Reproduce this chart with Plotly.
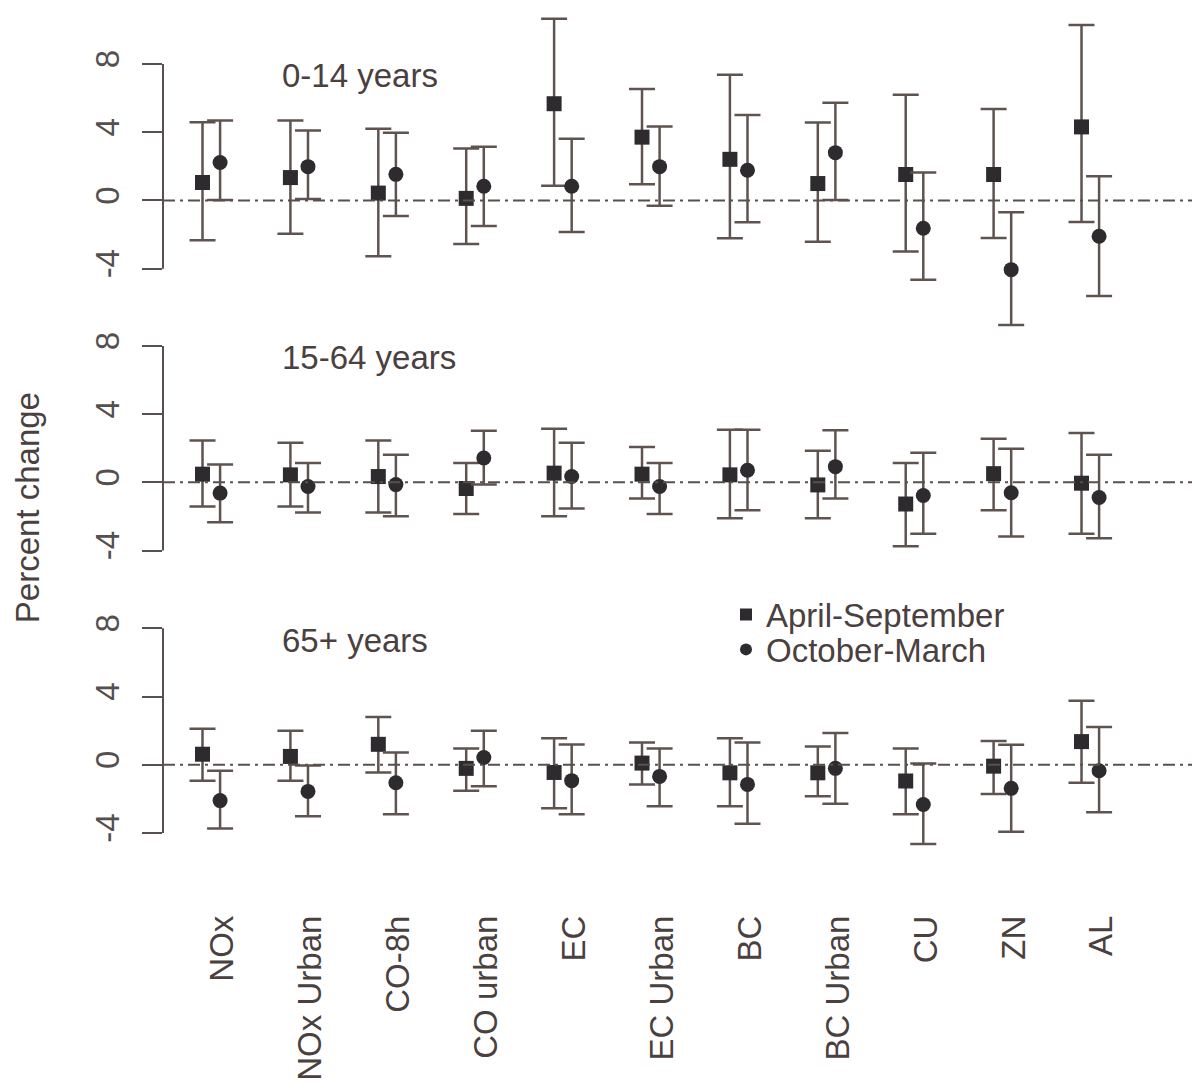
import plotly.graph_objects as go

# ---------------- data ----------------
categories = ["NOx", "NOx Urban", "CO-8h", "CO urban", "EC", "EC Urban",
              "BC", "BC Urban", "CU", "ZN", "AL"]
panel_labels = ["0-14 years", "15-64 years", "65+ years"]
season_names = ["April-September", "October-March"]
y_ticks = [-4, 0, 4, 8]

# 0-14 years
p1_apr_est = [1.05, 1.34, 0.43, 0.12, 5.67, 3.71, 2.41, 0.99, 1.52, 1.52, 4.31]
p1_apr_lo  = [-2.33, -1.96, -3.27, -2.55, 0.86, 0.95, -2.22, -2.43, -2.99, -2.20, -1.26]
p1_apr_hi  = [4.59, 4.68, 4.20, 3.05, 10.65, 6.53, 7.37, 4.57, 6.20, 5.36, 10.28]
p1_oct_est = [2.22, 1.98, 1.53, 0.83, 0.83, 1.98, 1.77, 2.80, -1.63, -4.06, -2.10]
p1_oct_lo  = [0.02, 0.08, -0.91, -1.50, -1.85, -0.31, -1.28, 0.02, -4.65, -7.31, -5.60]
p1_oct_hi  = [4.68, 4.10, 3.97, 3.15, 3.62, 4.33, 5.01, 5.73, 1.63, -0.70, 1.42]

# 15-64 years
p2_apr_est = [0.48, 0.44, 0.34, -0.36, 0.54, 0.48, 0.44, -0.15, -1.27, 0.51, -0.05]
p2_apr_lo  = [-1.41, -1.41, -1.76, -1.86, -1.99, -0.94, -2.11, -2.11, -3.74, -1.64, -3.02]
p2_apr_hi  = [2.46, 2.32, 2.46, 1.14, 3.14, 2.07, 3.08, 1.86, 1.14, 2.56, 2.90]
p2_oct_est = [-0.63, -0.24, -0.13, 1.43, 0.34, -0.24, 0.71, 0.92, -0.77, -0.61, -0.89]
p2_oct_lo  = [-2.34, -1.76, -1.99, -0.13, -1.53, -1.86, -1.64, -0.94, -3.02, -3.18, -3.28]
p2_oct_hi  = [1.04, 1.14, 1.62, 3.02, 2.32, 1.14, 3.08, 3.06, 1.74, 1.97, 1.62]

# 65+ years
p3_apr_est = [0.62, 0.49, 1.20, -0.21, -0.45, 0.10, -0.47, -0.47, -0.95, -0.08, 1.36]
p3_apr_lo  = [-0.93, -0.93, -0.45, -1.52, -2.55, -1.15, -2.43, -1.85, -2.90, -1.71, -1.05]
p3_apr_hi  = [2.12, 2.00, 2.80, 0.95, 1.55, 1.30, 1.55, 1.07, 0.95, 1.40, 3.75]
p3_oct_est = [-2.10, -1.56, -1.05, 0.43, -0.93, -0.68, -1.15, -0.21, -2.33, -1.38, -0.35]
p3_oct_lo  = [-3.73, -3.01, -2.90, -1.26, -2.90, -2.43, -3.46, -2.29, -4.65, -3.93, -2.78]
p3_oct_hi  = [-0.35, -0.04, 0.72, 2.00, 1.19, 0.95, 1.30, 1.87, 0.08, 1.17, 2.22]

panels = [
    (p1_apr_est, p1_apr_lo, p1_apr_hi, p1_oct_est, p1_oct_lo, p1_oct_hi),
    (p2_apr_est, p2_apr_lo, p2_apr_hi, p2_oct_est, p2_oct_lo, p2_oct_hi),
    (p3_apr_est, p3_apr_lo, p3_apr_hi, p3_oct_est, p3_oct_lo, p3_oct_hi),
]

# ---------------- layout geometry ----------------
W, H = 1192, 1088
k = 17.15                       # px per percent unit
zero_px = [195.5, 479.0, 763.0]
y_ranges = [(-7.8, 11.2), (-4.9, 8.5), (-8.4, 8.5)]
x_left_px = 163.0
g0_px, g_step = 211.3, 87.9
x_range = [1 - (g0_px - x_left_px) / g_step, 1 + (W - g0_px) / g_step]
offset = 0.1
label_shift = 0.13

FONT = "Liberation Sans, Arial, sans-serif"
FS = 33
TXT = "#4a4040"
BAR = "#5f5350"
MK = "#2e2b2f"
LINE = "#585050"

xs = list(range(1, len(categories) + 1))
legend_keys = ["legend", "legend2"]

fig = go.Figure()
for pi, (ae, al, ah, oe, ol, oh) in enumerate(panels):
    yname = "y" if pi == 0 else f"y{pi+1}"
    for si, (est, lo, hi, sym, dx) in enumerate([(ae, al, ah, "square", -offset),
                                                  (oe, ol, oh, "circle", offset)]):
        fig.add_trace(go.Scatter(
            x=[x + dx for x in xs], y=est, mode="markers",
            xaxis="x", yaxis=yname,
            name=season_names[si], legendgroup=season_names[si],
            legend=legend_keys[si],
            showlegend=(pi == 0),
            marker=dict(symbol=sym, size=15, color=MK),
            error_y=dict(type="data", symmetric=False,
                         array=[h - e for h, e in zip(hi, est)],
                         arrayminus=[e - l for e, l in zip(est, lo)],
                         color=BAR, thickness=2.5, width=13),
            cliponaxis=False,
        ))

leg_common = dict(xanchor="left", yanchor="middle", bgcolor="rgba(0,0,0,0)",
                  itemsizing="constant", font=dict(size=FS, color=TXT, family=FONT))
layout = dict(
    width=W, height=H, margin=dict(l=0, r=0, t=0, b=0),
    paper_bgcolor="white", plot_bgcolor="white",
    font=dict(family=FONT, color=TXT, size=FS),
    showlegend=True,
    legend=dict(x=726 / W, y=1 - 612 / H, **leg_common),
    legend2=dict(x=726 / W, y=1 - 647 / H, **leg_common),
    xaxis=dict(domain=[x_left_px / W, 1], range=x_range, anchor="y3",
               tickmode="array", tickvals=[x + label_shift for x in xs],
               ticktext=categories, tickangle=-90, showline=False,
               showgrid=False, zeroline=False, ticks="",
               tickfont=dict(size=FS, color=TXT, family=FONT)),
)

shapes = []
annotations = []
for pi in range(3):
    lo, hi = y_ranges[pi]
    top_px = zero_px[pi] - hi * k
    bot_px = zero_px[pi] - lo * k
    key = "yaxis" if pi == 0 else f"yaxis{pi+1}"
    yref = "y" if pi == 0 else f"y{pi+1}"
    layout[key] = dict(domain=[1 - bot_px / H, 1 - top_px / H], range=[lo, hi],
                       anchor="x", tickmode="array", tickvals=y_ticks,
                       ticktext=[str(t) for t in y_ticks],
                       tickangle=-90, ticks="outside", ticklen=20, tickwidth=2,
                       tickcolor=LINE, showline=False, showgrid=False,
                       zeroline=False, ticklabelstandoff=10,
                       tickfont=dict(size=FS, color="#555050", family=FONT))
    # axis line from -4 to 8
    shapes.append(dict(type="line", xref="paper", yref=yref,
                       x0=x_left_px / W, x1=x_left_px / W,
                       y0=min(y_ticks), y1=max(y_ticks),
                       line=dict(color=LINE, width=2)))
    # reference dash-dot line at zero
    shapes.append(dict(type="line", xref="paper", yref=yref,
                       x0=x_left_px / W, x1=1, y0=0, y1=0,
                       line=dict(color=LINE, width=2, dash="12px,5px,3px,5px")))
    annotations.append(dict(text=panel_labels[pi], xref="x", yref=yref,
                            x=1.78, y=7.3, xanchor="left", yanchor="middle",
                            showarrow=False,
                            font=dict(size=FS, color=TXT, family=FONT)))

annotations.append(dict(text="Percent change", xref="paper", yref="paper",
                        x=27 / W, y=1 - 505 / H, textangle=-90,
                        xanchor="center", yanchor="middle", showarrow=False,
                        font=dict(size=FS, color=TXT, family=FONT)))
layout["shapes"] = shapes
layout["annotations"] = annotations
fig.update_layout(**layout)
fig.write_html("out.html", config={"displayModeBar": False},
               post_script="document.body.style.margin='0';document.body.style.padding='0';")
